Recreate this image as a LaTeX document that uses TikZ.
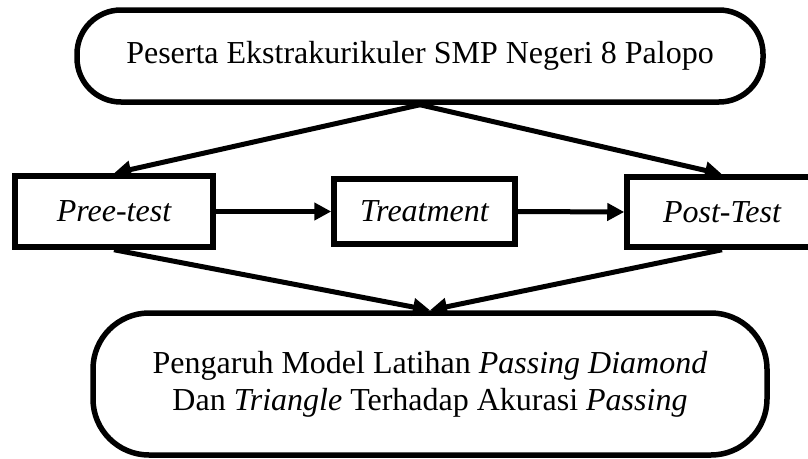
\documentclass[tikz,border=0pt]{standalone}
\usepackage{fontspec}
\setmainfont{LiberationSerif}[Extension=.ttf, UprightFont=*-Regular, ItalicFont=*-Italic, BoldFont=*-Bold, BoldItalicFont=*-BoldItalic]
\usetikzlibrary{arrows.meta}
\begin{document}
\begin{tikzpicture}[x=1pt,y=1pt,
  box/.style={draw, line width=5.5pt, inner sep=0pt, align=center, font=\fontsize{32}{37}\selectfont},
  rbox/.style={box, rounded corners=#1},
  arr/.style={line width=5pt, -{Triangle[length=17pt,width=17pt]}}]
\clip (0,0) rectangle (808,-458);
\useasboundingbox (0,0) rectangle (808,-458);
\node[rbox=44pt, minimum width=686pt, minimum height=92pt] (top) at (420,-56) {Peserta Ekstrakurikuler SMP Negeri 8 Palopo};
\node[box, minimum width=198pt, minimum height=71pt] (pre) at (114,-211.5) {\itshape Pree-test};
\node[box, minimum width=181pt, minimum height=65pt] (treat) at (424.5,-211.5) {\itshape Treatment};
\node[box, minimum width=190pt, minimum height=70pt] (post) at (722,-212) {\itshape Post-Test};
\node[rbox=56pt, minimum width=674pt, minimum height=142pt] (bot) at (430,-384) {Pengaruh Model Latihan \textit{Passing Diamond}\\Dan \textit{Triangle} Terhadap Akurasi \textit{Passing}};
\draw[arr] (top.south) -- (pre.north);
\draw[arr] (top.south) -- (post.north);
\draw[arr] (pre.east) -- (treat.west);
\draw[arr] (treat.east) -- (post.west);
\draw[arr] (pre.south) -- (bot.north);
\draw[arr] (post.south) -- (bot.north);
\end{tikzpicture}
\end{document}
